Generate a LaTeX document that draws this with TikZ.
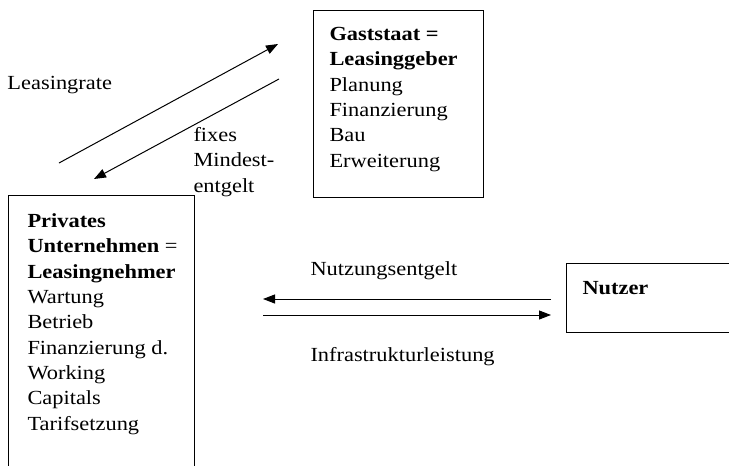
\documentclass[tikz,border=0pt]{standalone}
\usepackage{fontspec}
\setmainfont{Liberation Serif}[FakeStretch=1.12]
\usetikzlibrary{arrows.meta}
\begin{document}
\begin{tikzpicture}[x=1pt,y=-1pt,line width=1pt,
    every node/.style={inner sep=0pt},
    box/.style={draw,rectangle,anchor=north west},
    txt/.style={anchor=base west,align=left,font=\fontsize{20}{25.3}\selectfont},
    flow/.style={-{Triangle[length=12pt,width=9pt]}}]
  \clip (0,0) rectangle (729,466);
  \draw
    (313,10) node[box,minimum width=170pt,minimum height=187pt] (gast){}
    (8,195) node[box,minimum width=186pt,minimum height=290pt] (priv){}
    (566,263) node[box,minimum width=180pt,minimum height=69pt] (nutzer){};
  % Grundlinie der letzten Zeile
  \draw
    (329,167) node[txt] (gasttext){\textbf{Gaststaat =}\\\textbf{Leasinggeber}\\Planung\\Finanzierung\\Bau\\Erweiterung}
    (27,430) node[txt] (privtext){\textbf{Privates}\\\textbf{Unternehmen} =\\\textbf{Leasingnehmer}\\Wartung\\Betrieb\\Finanzierung d.\\Working\\Capitals\\Tarifsetzung}
    (582,294) node[txt] (nutzertext){\textbf{Nutzer}}
    (7,89) node[txt] (rate){Leasingrate}
    (193,192) node[txt] (mindest){fixes\\Mindest-\\entgelt}
    (310,275) node[txt] (entgelt){Nutzungsentgelt}
    (310,361) node[txt] (leistung){Infrastrukturleistung};
  % Endpunkte der Pfeile
  \coordinate (r0) at (59,163);
  \coordinate (r1) at (278,44);
  \coordinate (m0) at (279,79);
  \coordinate (m1) at (94,179);
  \coordinate (e0) at (551,299);
  \coordinate (e1) at (263,299);
  \coordinate (l0) at (263,315);
  \coordinate (l1) at (551,315);
  \begin{scope}[flow]
    \draw (r0) to (r1);
    \draw (m0) to (m1);
    \draw (e0) to (e1);
    \draw (l0) to (l1);
  \end{scope}
\end{tikzpicture}
\end{document}
